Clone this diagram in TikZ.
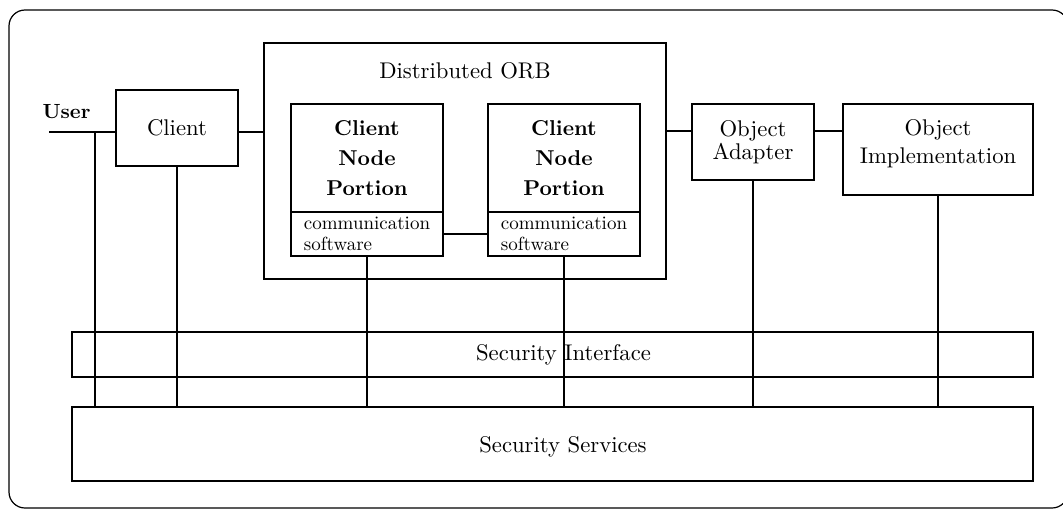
\documentclass[tikz,border=0pt]{standalone}
\usepackage{fontspec}
\setmainfont{lmroman10-regular.otf}[BoldFont=lmroman10-bold.otf]
\begin{document}
\begin{tikzpicture}[x=1pt, y=-1pt,
  box/.style={draw, line width=1.8pt, rectangle, inner sep=0pt},
  wire/.style={line width=1.8pt},
  txt/.style={font=\fontsize{22.7}{24}\selectfont},
  boldtxt/.style={font=\fontsize{21.5}{30}\bfseries\selectfont},
  smalltxt/.style={font=\fontsize{19}{21}\selectfont},
]
\useasboundingbox (0,0) rectangle (1063,511);
\clip (0,0) rectangle (1063,511);

% outer frame
\draw[line width=1.2pt, rounded corners=16pt] (9,10) rectangle (1068,508);

% user and client
\node[font=\fontsize{20.5}{24}\bfseries\selectfont, anchor=base] (user) at (66.5,118) {User};
\node[box, txt, minimum width=122pt, minimum height=76pt] (client) at (177,128) {Client};

% distributed ORB with its two node portions
\node[box, minimum width=402pt, minimum height=236pt] (orb) at (465,161) {};
\node[txt, anchor=base] (orbtitle) at (465,78) {Distributed ORB};

\node[box, boldtxt, align=center, minimum width=152pt, minimum height=108pt] (np1) at (367,158) {Client\\Node\\Portion};
\node[box, smalltxt, align=left, minimum width=152pt, minimum height=44pt] (cs1) at (367,234) {communication\\software};

\node[box, boldtxt, align=center, minimum width=152pt, minimum height=108pt] (np2) at (564,158) {Client\\Node\\Portion};
\node[box, smalltxt, align=left, minimum width=152pt, minimum height=44pt] (cs2) at (564,234) {communication\\software};

% object side
\node[box, font=\fontsize{22.7}{23}\selectfont, align=center, minimum width=122pt, minimum height=76pt] (oa) at (753,142) {Object\\Adapter};
\node[box, minimum width=190pt, minimum height=91pt] (oi) at (938,149.5) {};
\node[font=\fontsize{22.7}{28}\selectfont, align=center] (oilabel) at (938,143.5) {Object\\Implementation};

% security layers
\node[box, minimum width=961pt, minimum height=45pt] (si) at (552.5,354.5) {};
\node[txt, anchor=base] (silabel) at (563.5,360) {Security Interface};
\node[box, minimum width=961pt, minimum height=74pt] (ss) at (552.5,444) {};
\node[txt, anchor=base] (sslabel) at (563,452) {Security Services};

% horizontal links
\coordinate (ul) at (49,132);
\coordinate (utap) at (95,132);
\coordinate (rl) at (0,131);
\draw[wire] (ul) -- (ul -| client.west);
\draw[wire] (client.east |- ul) -- (ul -| orb.west);
\draw[wire] (cs1.east) -- (cs2.west);
\draw[wire] (rl -| orb.east) -- (rl -| oa.west);
\draw[wire] (rl -| oa.east) -- (rl -| oi.west);

% taps down to the security services
\draw[wire] (utap) -- (utap |- ss.north);
\draw[wire] (client.south) -- (client.south |- ss.north);
\draw[wire] (cs1.south) -- (cs1.south |- ss.north);
\draw[wire] (cs2.south) -- (cs2.south |- ss.north);
\draw[wire] (oa.south) -- (oa.south |- ss.north);
\draw[wire] (oi.south) -- (oi.south |- ss.north);
\end{tikzpicture}
\end{document}
